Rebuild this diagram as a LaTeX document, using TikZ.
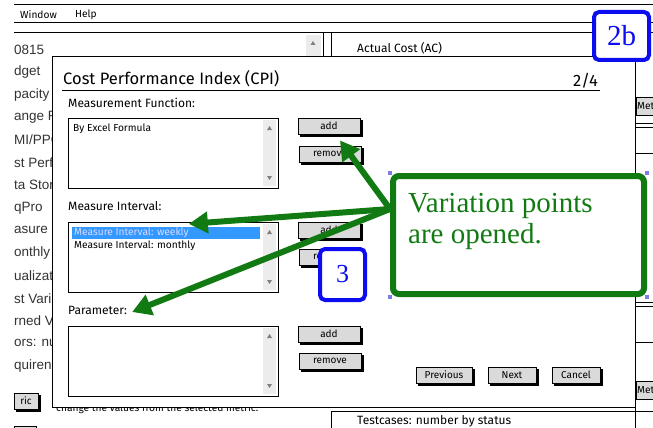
\documentclass[tikz,border=0pt]{standalone}
\usepackage{fontspec}
\setmainfont{Liberation Serif}
\newfontfamily\uifont{Fira Sans}
\newfontfamily\listfont{Liberation Sans}
\usetikzlibrary{calc}
\usetikzlibrary{arrows.meta}
\usepackage{xcolor}

\definecolor{vpgreen}{RGB}{18,122,18}
\definecolor{tagblue}{RGB}{12,12,240}
\definecolor{selblue}{RGB}{51,153,255}
\definecolor{btngray}{RGB}{218,218,218}
\definecolor{bargray}{RGB}{236,236,236}
\definecolor{handle}{RGB}{125,125,225}

\tikzset{
  sketch/.style={black, line width=1pt},
  uibtn/.style={draw=black, line width=0.9pt, fill=btngray, minimum width=62pt, minimum height=16pt, inner sep=0pt,
    font=\uifont\fontsize{10}{10}\selectfont,
    preaction={fill=black, draw=black, line width=0.9pt, transform canvas={xshift=2.5pt, yshift=-2.5pt}}},
  uilabel/.style={anchor=west, inner sep=0pt, font=\uifont\fontsize{12}{12}\selectfont},
  itemtext/.style={anchor=west, inner sep=0pt, font=\uifont\fontsize{10.2}{10.2}\selectfont},
  bgtext/.style={anchor=west, inner sep=0pt, font=\listfont\fontsize{13.5}{13.5}\selectfont, text=black!80},
  tagbox/.style={draw=tagblue, line width=4pt, rounded corners=5pt, fill=white, text=tagblue},
  vparrow/.style={draw=vpgreen, line width=6pt, -{Triangle[length=19pt,width=21pt]}},
}

\begin{document}
\begin{tikzpicture}[x=1pt, y=-1pt]
\useasboundingbox (0,0) rectangle (653,428);
\fill[white] (0,0) rectangle (653,428);

% window behind the dialog
\draw[sketch] (14,5) -- (653,5);
\draw[sketch] (14,23) -- (653,23);
\draw[sketch] (14,33) -- (653,33);
\node[itemtext] (menuwin) at (20,15) {Window};
\node[itemtext] (menuhelp) at (75,15) {Help};
\fill[bargray] (306,35) rectangle (321,56);
\fill[gray] (310.5,45) -- (315.5,45) -- (313,41) -- cycle;
\draw[sketch] (323,33) -- (323,57);
\draw[sketch] (331,33) -- (331,57);
\node[uilabel] (actual) at (357,48) {Actual Cost (AC)};

\begin{scope}
\clip (14,35) rectangle (52,380);
\foreach \t [count=\i] in {0815,dget,pacity,ange R,MI/PPO,st Perf,ta Stor,qPro,asure,onthly,ualizat,st Vari,rned V,ors: nu,quiren}
  \node[bgtext] (row\i) at (14,27+22.6*\i) {\t};
\end{scope}
\node[uibtn, minimum width=24pt, minimum height=16pt] (ricbtn) at (26,401) {ric};
\node[uibtn, minimum width=22pt, minimum height=16pt] (lowbtn) at (25,434) {};
\node[itemtext] (hint) at (56,409) {change the values from the selected metric.};

\draw[sketch] (635,60) -- (635,428);
\foreach \yy in {123,127,153,302,306,342}
  \draw[sketch] (635,\yy) -- (653,\yy);
\draw[sketch, fill=btngray] (636,97) rectangle (660,115);
\node[itemtext] (metA) at (637,106) {Met};
\draw[sketch, fill=btngray] (636,381) rectangle (660,399);
\node[itemtext] (metB) at (637,390) {Met};
\draw[sketch] (331,428) -- (331,411) -- (653,411);
\node[uilabel] (testcases) at (357,421) {Testcases: number by status};

% the dialog
\draw[sketch, fill=white] (52,57) rectangle (635,407);
\node[anchor=west, inner sep=0pt, font=\uifont\fontsize{16.5}{16.5}\selectfont] (title) at (63,79) {Cost Performance Index (CPI)};
\node[anchor=east, inner sep=0pt, font=\uifont\fontsize{16.5}{16.5}\selectfont] (pagenum) at (598,81) {2/4};
\draw[sketch] (62,90) -- (600,90);

\node[uilabel] (mfunc) at (68,103) {Measurement Function:};
\node[uilabel] (minterval) at (68,206) {Measure Interval:};
\node[uilabel] (param) at (68,310) {Parameter:};

\foreach \ytop in {118,222,326} {
  \draw[sketch, fill=white] (68,\ytop) rectangle ++(210,70);
  \fill[bargray] (263,\ytop+2) rectangle (276,\ytop+68);
  \fill[gray] (267,\ytop+12) -- (272,\ytop+12) -- (269.5,\ytop+8) -- cycle;
  \fill[gray] (267,\ytop+58) -- (272,\ytop+58) -- (269.5,\ytop+62) -- cycle;
}
\node[itemtext] (byexcel) at (73,129) {By Excel Formula};
\fill[selblue] (72,227) rectangle (260,239);
\node[itemtext, text=blue!15] (weekly) at (74,233) {Measure Interval: weekly};
\node[itemtext] (monthly) at (74,246) {Measure Interval: monthly};

\node[uibtn] (addA) at (329,126) {add};
\node[uibtn] (remA) at (330,154) {remove};
\node[uibtn] (addB) at (329,230) {add};
\node[uibtn] (remB) at (330,257) {remove};
\node[uibtn] (addC) at (329,334) {add};
\node[uibtn] (remC) at (330,361) {remove};
\node[uibtn, minimum width=56pt] (prevbtn) at (444,375) {Previous};
\node[uibtn, minimum width=48pt] (nextbtn) at (512,375) {Next};
\node[uibtn, minimum width=48pt] (cancelbtn) at (576,375) {Cancel};

% callout and its arrows
\node[draw=vpgreen, line width=6pt, rounded corners=6pt, fill=white, minimum width=251pt, minimum height=118pt] (callout) at (518.5,235) {};
\coordinate (hub) at ([yshift=26pt]callout.west);
\draw[vparrow] (hub) -- ([xshift=11pt,yshift=-6pt]addA.south);
\draw[vparrow] (hub) -- ([yshift=4pt]weekly.north east);
\draw[vparrow] (hub) -- ([xshift=5pt,yshift=-2pt]param.east);
\node[anchor=west, inner sep=0pt, align=left, text=vpgreen, font=\fontsize{29}{31}\selectfont] (vptext) at (408,221) {Variation points\\are opened.};
\foreach \px/\py in {390/173,647/173,390/297,647/297}
  \fill[handle] (\px-2,\py-2) rectangle ++(4,4);

\node[tagbox, minimum width=55pt, minimum height=48pt, font=\fontsize{29}{29}\selectfont] (tagtwob) at (621.5,36) {2b};
\node[tagbox, minimum width=45pt, minimum height=51pt, font=\fontsize{26}{26}\selectfont] (tagthree) at (342.5,274.5) {3};
\end{tikzpicture}
\end{document}
